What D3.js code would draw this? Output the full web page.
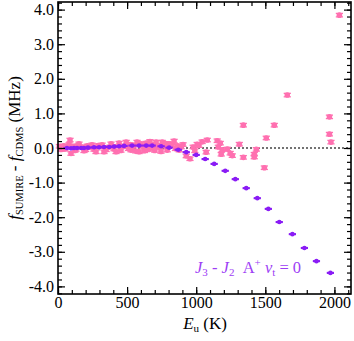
<!DOCTYPE html>
<html>
<head>
<meta charset="utf-8">
<script src="https://cdn.jsdelivr.net/npm/d3@7"></script>
<style>
  body { margin: 0; background: #fff; }
  svg text { font-family: "Liberation Serif", "Times New Roman", Times, "DejaVu Serif", serif; }
</style>
</head>
<body>
<div id="stage"></div>
<script>
// E_u (K) and f_SUMIRE - f_CDMS (MHz)
const pinkE = [10, 22, 30, 42, 50, 65, 80, 87, 94, 110, 122, 130, 145, 152, 174, 188, 200, 212, 225,
  246, 260, 275, 290, 300, 319, 333, 348, 360, 384, 395, 405, 420, 442, 455, 470, 493, 510, 520,
  529, 550, 562, 572, 587, 600, 610, 625, 638, 655, 665, 674, 690, 700, 710, 722, 732, 745,
  754, 770, 780, 790, 810, 826, 840, 850, 865, 877, 891, 905, 928, 955, 978, 990, 1007, 1020, 1043,
  1072, 1080, 1152, 1160, 1174, 1181, 1188, 1225, 1246, 1261, 1312, 1341, 1341, 1420, 1420,
  1435, 1493, 1507, 1565, 1659, 1964, 1964, 1975, 2036];
const pinkDiff = [0.05, -0.04, 0.02, 0.06, -0.03, 0.04, 0.10, 0.23, -0.16, 0.05, -0.07, -0.04, 0.07,
  0.12, 0.03, -0.08, -0.05, 0.06, 0.02, 0.09, -0.04, -0.11, 0.07, 0.04, 0.09, -0.11, -0.05, 0.02,
  0.12, 0.05, -0.03, -0.11, 0.14, -0.07, 0.04, 0.17, -0.02, 0.10, -0.06, 0.08, -0.09, 0.17,
  -0.11, 0.12, 0.05, -0.08, 0.14, -0.04, 0.19, 0.00, 0.10, -0.07, 0.17, 0.07, 0.03, -0.10,
  0.17, 0.08, 0.13, -0.06, 0.12, 0.09, 0.20, -0.02, 0.06, -0.06, 0.03, 0.10, -0.23, -0.31,
  0.03, -0.08, 0.11, 0.07, 0.18, -0.12, 0.23, 0.21, 0.03, 0.14, -0.18, -0.05, -0.03, -0.15,
  -0.22, 0.11, 0.66, -0.27, -0.18, -0.26, -0.04, -0.57, 0.29, 0.66, 1.53, 0.90, 0.40, 0.17, 3.84];
const pinkErr = 0.05;

const purpleE = [65, 94, 116, 138, 167, 188, 217, 261, 297, 333, 370, 406, 442, 478, 536, 587, 638,
  681, 746, 804, 870, 928, 1000, 1065, 1130, 1210, 1283, 1362, 1442, 1522, 1601, 1696, 1783,
  1870, 1971];
const purpleDiff = [0.00, -0.01, 0.00, 0.00, 0.00, 0.00, 0.01, 0.02, 0.02, 0.03, 0.03, 0.04, 0.05,
  0.06, 0.07, 0.07, 0.07, 0.07, 0.05, 0.01, -0.05, -0.12, -0.20, -0.32, -0.46, -0.66, -0.90, -1.16,
  -1.45, -1.76, -2.14, -2.49, -2.89, -3.27, -3.61];
const purpleErr = 0.012;

const xTicks = [0, 500, 1000, 1500, 2000];
const yTicks = [-4, -3, -2, -1, 0, 1, 2, 3, 4];

const width = 354, height = 341;
const mLeft = 58, mRight = 351, mTop = 2, mBottom = 294;
const pink = '#ff70b0', purple = '#8a1cf5';
const serif = '"Liberation Serif", "Times New Roman", Times, serif';

const svg = d3.select('#stage').append('svg')
  .attr('width', width).attr('height', height)
  .style('font-family', serif);

const x = d3.scaleLinear().domain([0, 2120]).range([mLeft, mRight]);
const y = d3.scaleLinear().domain([-4.22, 4.22]).range([mBottom, mTop]);

// dotted zero line
svg.append('line')
  .attr('x1', mLeft).attr('x2', mRight)
  .attr('y1', y(0)).attr('y2', y(0))
  .attr('stroke', '#444').attr('stroke-width', 1.6)
  .attr('stroke-dasharray', '2,2');

// error bars + markers
function drawSeries(E, D, err, col, r) {
  const g = svg.append('g').attr('stroke', col).attr('fill', col);
  const pts = E.map((e, i) => ({e: e, d: D[i]}));
  const sel = g.selectAll('g').data(pts).join('g');
  sel.append('line')
    .attr('x1', d => x(d.e)).attr('x2', d => x(d.e))
    .attr('y1', d => y(d.d - err)).attr('y2', d => y(d.d + err))
    .attr('stroke-width', 1.3);
  [-1, 1].forEach(s => {
    sel.append('line')
      .attr('x1', d => x(d.e) - 3.6).attr('x2', d => x(d.e) + 3.6)
      .attr('y1', d => y(d.d + s * err)).attr('y2', d => y(d.d + s * err))
      .attr('stroke-width', 1.3);
  });
  sel.append('circle')
    .attr('cx', d => x(d.e)).attr('cy', d => y(d.d))
    .attr('r', r).attr('stroke', 'none');
}
drawSeries(pinkE, pinkDiff, pinkErr, pink, 2.8);
drawSeries(purpleE, purpleDiff, purpleErr, purple, 2.3);

// axes with inward ticks
function styleAxis(g) {
  g.attr('font-family', null);
  g.select('.domain').remove();
  g.selectAll('.tick line').attr('stroke', '#000').attr('stroke-width', 1.2);
  g.selectAll('text').attr('font-size', 16).attr('fill', '#000')
    .style('font-family', serif);
}
const yFmt = d => d.toFixed(1);
const xMinor = d3.range(0, 2121, 100);
const yMinor = d3.range(-4.2, 4.21, 0.2);

svg.append('g').attr('transform', `translate(${mLeft},0)`)
  .call(d3.axisLeft(y).tickValues(yTicks).tickFormat(yFmt).tickSize(-7).tickPadding(4))
  .call(styleAxis);
svg.append('g').attr('transform', `translate(${mLeft},0)`)
  .call(d3.axisLeft(y).tickValues(yMinor).tickFormat('').tickSize(-4)).call(styleAxis);
svg.append('g').attr('transform', `translate(${mRight},0)`)
  .call(d3.axisRight(y).tickValues(yTicks).tickFormat('').tickSize(-7)).call(styleAxis);
svg.append('g').attr('transform', `translate(${mRight},0)`)
  .call(d3.axisRight(y).tickValues(yMinor).tickFormat('').tickSize(-4)).call(styleAxis);

svg.append('g').attr('transform', `translate(0,${mBottom})`)
  .call(d3.axisBottom(x).tickValues(xTicks).tickFormat(d3.format('d')).tickSize(-7).tickPadding(3))
  .call(styleAxis);
svg.append('g').attr('transform', `translate(0,${mBottom})`)
  .call(d3.axisBottom(x).tickValues(xMinor).tickFormat('').tickSize(-4)).call(styleAxis);
svg.append('g').attr('transform', `translate(0,${mTop})`)
  .call(d3.axisTop(x).tickValues(xTicks).tickFormat('').tickSize(-7)).call(styleAxis);
svg.append('g').attr('transform', `translate(0,${mTop})`)
  .call(d3.axisTop(x).tickValues(xMinor).tickFormat('').tickSize(-4)).call(styleAxis);

// frame
svg.append('rect')
  .attr('x', mLeft).attr('y', mTop)
  .attr('width', mRight - mLeft).attr('height', mBottom - mTop)
  .attr('fill', 'none').attr('stroke', '#000').attr('stroke-width', 1.6);

// axis titles
const xl = svg.append('text')
  .attr('x', 205).attr('y', 329)
  .attr('text-anchor', 'middle').attr('font-size', 17);
xl.append('tspan').attr('font-style', 'italic').text('E');
xl.append('tspan').attr('font-size', 11).attr('dy', 3).text('u');
xl.append('tspan').attr('dy', -3).text(' (K)');

const yl = svg.append('text')
  .attr('transform', `translate(20,${(mTop + mBottom) / 2}) rotate(-90)`)
  .attr('text-anchor', 'middle').attr('font-size', 17);
yl.append('tspan').attr('font-style', 'italic').text('f');
yl.append('tspan').attr('font-size', 10.5).attr('dy', 3).text('SUMIRE');
yl.append('tspan').attr('dy', -3).text(' - ');
yl.append('tspan').attr('font-style', 'italic').text('f');
yl.append('tspan').attr('font-size', 10.5).attr('dy', 3).text('CDMS');
yl.append('tspan').attr('dy', -3).text(' (MHz)');

// transition label
const lab = svg.append('text')
  .attr('x', 195).attr('y', 273)
  .attr('font-size', 16.5).attr('fill', '#9d3df5');
lab.append('tspan').attr('font-style', 'italic').text('J');
lab.append('tspan').attr('font-size', 11).attr('dy', 3).text('3');
lab.append('tspan').attr('dy', -3).text(' - ');
lab.append('tspan').attr('font-style', 'italic').text('J');
lab.append('tspan').attr('font-size', 11).attr('dy', 3).text('2');
lab.append('tspan').attr('dy', -3).text('\u2002A');
lab.append('tspan').attr('font-size', 11).attr('dy', -7).text('+');
lab.append('tspan').attr('dy', 7).text(' ');
lab.append('tspan').attr('font-style', 'italic').text('v');
lab.append('tspan').attr('font-size', 11).attr('dy', 3).text('t');
lab.append('tspan').attr('dy', -3).text(' = 0');
</script>
</body>
</html>
